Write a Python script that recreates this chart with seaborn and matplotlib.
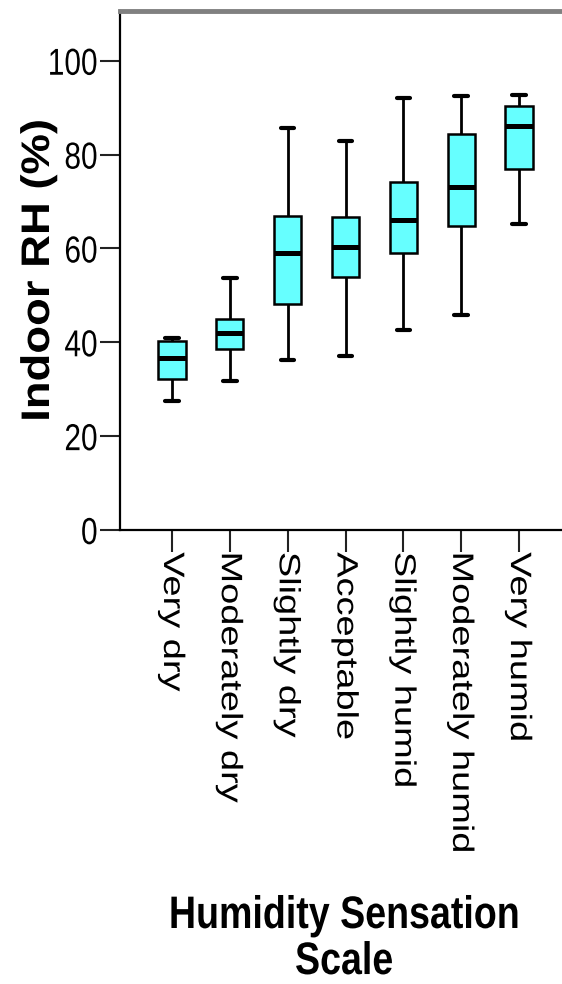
import numpy as np
import pandas as pd
import matplotlib
matplotlib.use("Agg")
import matplotlib.pyplot as plt
from matplotlib.patheffects import AbstractPathEffect
from matplotlib.transforms import Affine2D, ScaledTranslation
import seaborn as sns

# Humidity sensation categories and five-number summaries of indoor RH (%)
categories = ["Very dry", "Moderately dry", "Slightly dry", "Acceptable",
              "Slightly humid", "Moderately humid", "Very humid"]
whisker_low = [27.4, 31.8, 36.3, 37.0, 42.6, 45.9, 65.3]
quartile_1 = [32.2, 38.5, 48.1, 54.0, 59.1, 64.8, 76.9]
medians = [36.7, 42.0, 59.0, 60.3, 66.0, 73.1, 86.0]
quartile_3 = [40.2, 45.0, 67.0, 66.6, 74.1, 84.3, 90.4]
whisker_high = [41.0, 53.8, 85.7, 83.0, 92.1, 92.4, 92.8]
y_ticks = [0, 20, 40, 60, 80, 100]

# Long-form table: five points per category reproduce the summary exactly
rows = []
for i, cat in enumerate(categories):
    for v in (whisker_low[i], quartile_1[i], medians[i], quartile_3[i], whisker_high[i]):
        rows.append({"sensation": cat, "rh": v})
df = pd.DataFrame(rows)


class Stretch(AbstractPathEffect):
    """Scale glyphs along the text baseline (condensed / expanded type)."""

    def __init__(self, sx=1.0, anchor="center"):
        super().__init__()
        self.sx = sx
        self.anchor = anchor

    def draw_path(self, renderer, gc, tpath, affine, rgbFace=None):
        ext = tpath.get_extents()
        if self.anchor == "left":
            cx = ext.x0
        elif self.anchor == "right":
            cx = ext.x1
        else:
            cx = 0.5 * (ext.x0 + ext.x1)
        pre = Affine2D().translate(-cx, 0).scale(self.sx, 1.0).translate(cx, 0)
        renderer.draw_path(gc, tpath, pre + affine, rgbFace)


sns.set_theme(style="white")
FONT = "Liberation Sans"
plt.rcParams["font.family"] = [FONT, "DejaVu Sans"]
plt.rcParams["text.color"] = "black"
plt.rcParams["axes.labelcolor"] = "black"
plt.rcParams["xtick.color"] = "black"
plt.rcParams["ytick.color"] = "black"

W, H, DPI = 562, 984, 100
fig = plt.figure(figsize=(W / DPI, H / DPI), dpi=DPI)

left_px, right_px, top_px, bottom_px = 120, 571, 11, 530
ax = fig.add_axes([left_px / W, 1 - bottom_px / H,
                   (right_px - left_px) / W, (bottom_px - top_px) / H])

sns.boxplot(data=df, x="sensation", y="rh", order=categories, ax=ax,
            whis=(0, 100), width=0.47, color="#66FFFF", saturation=1,
            linecolor="black", linewidth=1.8,
            medianprops=dict(color="black", linewidth=3.6),
            whiskerprops=dict(color="black", linewidth=2.0),
            capprops=dict(color="black", linewidth=3.0),
            showfliers=False)

ax.set_xlim(-0.9, 6.9)
ax.set_ylim(0, 110.6)
ax.set_yticks(y_ticks)
ylabels = ax.set_yticklabels([str(t) for t in y_ticks], fontsize=27,
                             color="black")
for t in ylabels:
    t.set_path_effects([Stretch(0.795, "right")])

ax.set_xticks(range(len(categories)))
xlabels = ax.set_xticklabels(categories, rotation=270, fontsize=21.2,
                             color="black", ha="center", va="top")
shift = ScaledTranslation(-6 / DPI, 0, fig.dpi_scale_trans)
for t in xlabels:
    t.set_path_effects([Stretch(1.29, "left")])
    t.set_transform(t.get_transform() + shift)

ax.tick_params(axis="y", direction="out", length=14.4, width=1.5,
               color="#222222", pad=1.5, left=True)
ax.tick_params(axis="x", direction="out", length=16, width=1.5,
               color="#222222", pad=0, bottom=True)

for side in ("left", "bottom"):
    ax.spines[side].set_color("black")
    ax.spines[side].set_linewidth(1.6)
ax.spines["top"].set_color("#808080")
ax.spines["top"].set_linewidth(3.5)
ax.spines["right"].set_visible(False)

ax.set_xlabel("")
ylab = ax.set_ylabel("Indoor RH (%)", fontsize=28.7, fontweight="bold")
ylab.set_path_effects([Stretch(1.14, "center")])
ax.yaxis.set_label_coords((57 - left_px) / (right_px - left_px), 0.5)

xl = fig.text(344 / W, 1 - 894 / H, "Humidity Sensation\nScale",
              fontweight="bold", fontsize=32.8,
              ha="center", va="top", multialignment="center", linespacing=1.06)
xl.set_path_effects([Stretch(0.825, "center")])

fig.savefig("out.png", dpi=DPI, facecolor="white")
